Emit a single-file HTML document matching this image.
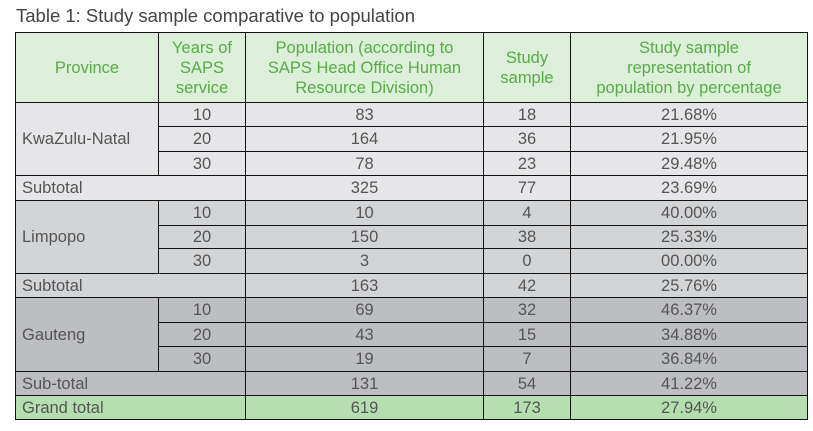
<!DOCTYPE html>
<html><head><meta charset="utf-8"><style>
body{margin:0;width:813px;height:431px;background:#fff;font-family:"Liberation Sans",sans-serif;overflow:hidden;position:relative}
#title{position:absolute;left:16px;top:5px;font-size:18.5px;color:#444}
table{position:absolute;left:15px;top:32px;border-collapse:collapse;table-layout:fixed;font-size:16.5px;color:#555}
td,th{border:1.5px solid #111;padding:0 4px;line-height:20px;text-align:center;white-space:nowrap}
th{background:#dcefd9;color:#5aab4a;font-weight:normal;height:69px}
.l{text-align:left;padding-left:6px}
.k td{background:#e6e6e8}
.p td{background:#d3d4d6}
.g td{background:#bdbec1}
.t td{background:#b5dfb0}
</style></head><body>
<div id="title">Table 1: Study sample comparative to population</div>
<table>
<colgroup><col style="width:143px"><col style="width:87px"><col style="width:238px"><col style="width:87px"><col style="width:237px"></colgroup>
<tr><th>Province</th><th>Years of<br>SAPS<br>service</th><th>Population (according to<br>SAPS Head Office Human<br>Resource Division)</th><th>Study<br>sample</th><th>Study sample<br>representation of<br>population by percentage</th></tr>
<tr class="k" style="height:24px"><td class="l" rowspan="3">KwaZulu-Natal</td><td>10</td><td>83</td><td>18</td><td>21.68%</td></tr>
<tr class="k" style="height:25px"><td>20</td><td>164</td><td>36</td><td>21.95%</td></tr>
<tr class="k" style="height:24px"><td>30</td><td>78</td><td>23</td><td>29.48%</td></tr>
<tr class="k" style="height:25px"><td class="l" colspan="2">Subtotal</td><td>325</td><td>77</td><td>23.69%</td></tr>
<tr class="p" style="height:25px"><td class="l" rowspan="3">Limpopo</td><td>10</td><td>10</td><td>4</td><td>40.00%</td></tr>
<tr class="p" style="height:23px"><td>20</td><td>150</td><td>38</td><td>25.33%</td></tr>
<tr class="p" style="height:25px"><td>30</td><td>3</td><td>0</td><td>00.00%</td></tr>
<tr class="p" style="height:24px"><td class="l" colspan="2">Subtotal</td><td>163</td><td>42</td><td>25.76%</td></tr>
<tr class="g" style="height:25px"><td class="l" rowspan="3">Gauteng</td><td>10</td><td>69</td><td>32</td><td>46.37%</td></tr>
<tr class="g" style="height:24px"><td>20</td><td>43</td><td>15</td><td>34.88%</td></tr>
<tr class="g" style="height:25px"><td>30</td><td>19</td><td>7</td><td>36.84%</td></tr>
<tr class="g" style="height:24px"><td class="l" colspan="2">Sub-total</td><td>131</td><td>54</td><td>41.22%</td></tr>
<tr class="t" style="height:24px"><td class="l" colspan="2">Grand total</td><td>619</td><td>173</td><td>27.94%</td></tr>
</table>
</body></html>
